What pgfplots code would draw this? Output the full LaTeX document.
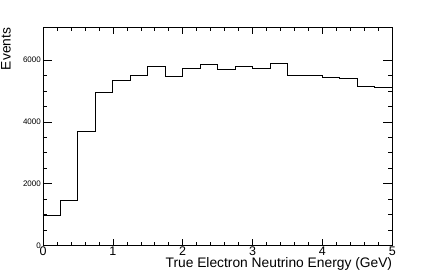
\documentclass[border=0pt]{standalone}
\usepackage{fontspec}
\setmainfont{Liberation Sans}
\usepackage{pgfplots}
\pgfplotsset{compat=1.18}

\begin{document}
\begin{tikzpicture}
\path[use as bounding box] (-43pt,-27.7pt) rectangle (393pt,245.3pt);
\begin{axis}[at={(0,0)},anchor=south west,scale only axis,
  width=349.3pt,height=217.6pt,
  xmin=0,xmax=5,ymin=0,ymax=7050,
  xtick={0,1,2,3,4,5},minor x tick num=4,
  ytick={0,2000,4000,6000},minor y tick num=3,
  tick align=inside,major tick length=9pt,minor tick length=4.5pt,
  xtick style={/pgfplots/major tick length=6pt,/pgfplots/minor tick length=3pt},
  axis line style={line width=0.9pt},tick style={black,line width=0.6pt},
  /pgf/number format/assume math mode=true,
  /pgf/number format/1000 sep={},
  xticklabel style={font=\fontsize{12.5}{14}\selectfont,inner sep=1pt},
  yticklabel style={font=\fontsize{8}{9}\selectfont,inner sep=2pt},
  xlabel={True Electron Neutrino Energy (GeV)},
  ylabel={Events},
  label style={font=\fontsize{13.8}{15}\selectfont},
  xlabel style={at={(axis description cs:1,0)},anchor=north east,inner sep=0pt,yshift=-12pt},
  ylabel style={at={([xshift=-37pt]axis description cs:0,1)},anchor=east,inner sep=0pt},
]
\addplot[const plot,black,line width=0.9pt] coordinates {
  (0,972) (0.25,1468) (0.5,3682) (0.75,4937) (1,5348) (1.25,5488)
  (1.5,5780) (1.75,5455) (2,5737) (2.25,5854) (2.5,5682) (2.75,5789)
  (3,5724) (3.25,5899) (3.5,5510) (3.75,5488) (4,5445) (4.25,5391)
  (4.5,5141) (4.75,5109) (5,5109)};
\end{axis}
\end{tikzpicture}
\end{document}
